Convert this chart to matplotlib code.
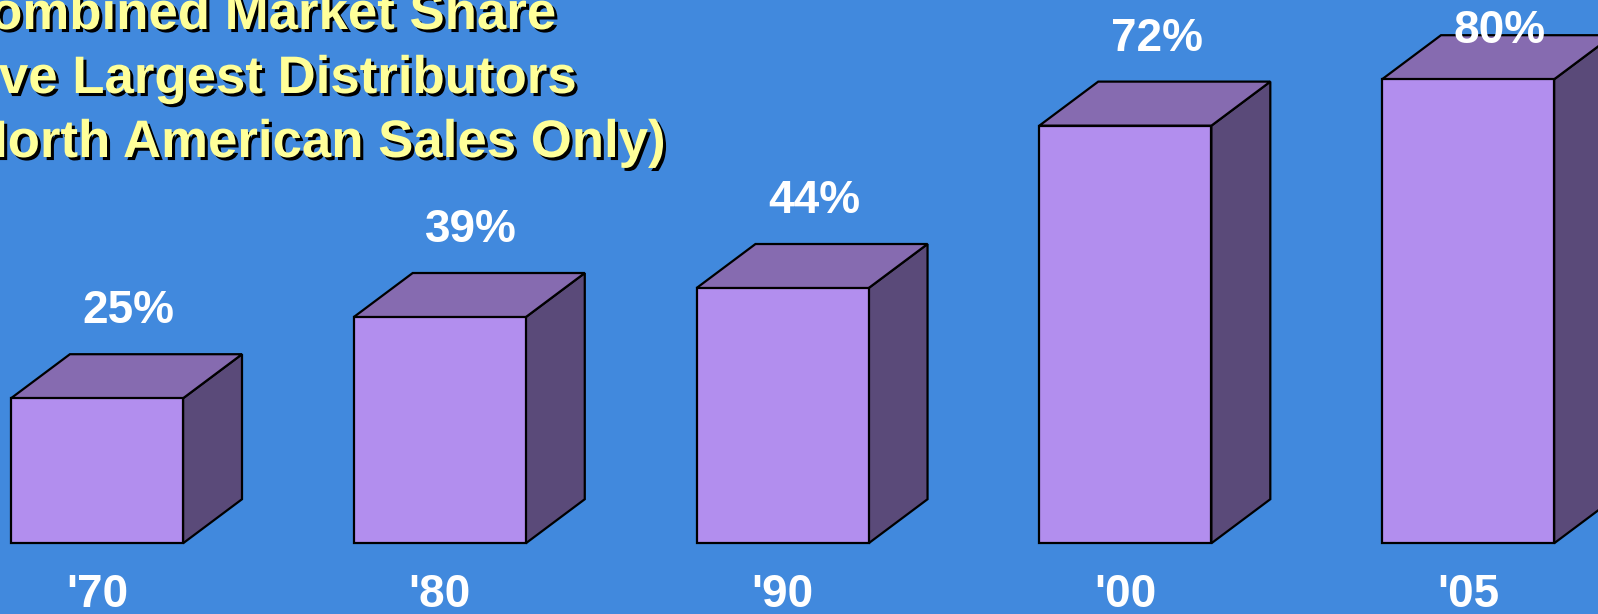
import matplotlib
matplotlib.use("Agg")
import matplotlib.pyplot as plt
from matplotlib.patches import Polygon
import matplotlib.patheffects as pe

years = ["'70", "'80", "'90", "'00", "'05"]
shares = [25, 39, 44, 72, 80]
title_lines = ["Combined Market Share",
               "Five Largest Distributors",
               "(North American Sales Only)"]

bg = "#4189DD"
front_c = "#B28EEE"
top_c = "#866BB0"
side_c = "#5A4A79"

fig = plt.figure(figsize=(15.98, 6.14), dpi=100)
fig.patch.set_facecolor(bg)
ax = fig.add_axes([0, 0, 1, 1])
ax.set_facecolor(bg)
ax.set_xlim(-0.283, 4.379)
ax.set_ylim(-12.19, 93.67)
ax.axis("off")

w = 0.502     # bar width (category units)
dx = 0.172    # depth in x
dy = 7.6      # depth in y (percent units)

for i, v in enumerate(shares):
    x0 = i - w / 2
    x1 = i + w / 2
    front = Polygon([(x0, 0), (x1, 0), (x1, v), (x0, v)], closed=True,
                    facecolor=front_c, edgecolor="black", lw=1.6, zorder=3)
    top = Polygon([(x0, v), (x1, v), (x1 + dx, v + dy), (x0 + dx, v + dy)], closed=True,
                  facecolor=top_c, edgecolor="black", lw=1.6, zorder=2)
    side = Polygon([(x1, 0), (x1 + dx, dy), (x1 + dx, v + dy), (x1, v)], closed=True,
                   facecolor=side_c, edgecolor="black", lw=1.6, zorder=2)
    ax.add_patch(side)
    ax.add_patch(top)
    ax.add_patch(front)

    ly = min(v + dy + 5.3, 86.2)
    ax.text(i + dx / 2 + 0.006, ly, f"{v}%", ha="center", va="baseline",
            fontsize=33, fontweight="bold", color="white",
            family="Liberation Sans", zorder=5)
    ax.text(i, -11.0, years[i], ha="center", va="baseline",
            fontsize=33, fontweight="bold", color="white",
            family="Liberation Sans", zorder=5)

# title, partly cut off on the left like the original slide
shadow = [pe.withSimplePatchShadow(offset=(2.2, -2.2), shadow_rgbFace="black", alpha=1.0)]
for k, line in enumerate(title_lines):
    fig.text(-48 / 1598, 1 - (29 + 64 * k) / 614, line, ha="left", va="baseline",
             fontsize=38, fontweight="bold", color="#FFFF99",
             family="Liberation Sans", path_effects=shadow)

fig.savefig("out.png", dpi=100, facecolor=bg)
